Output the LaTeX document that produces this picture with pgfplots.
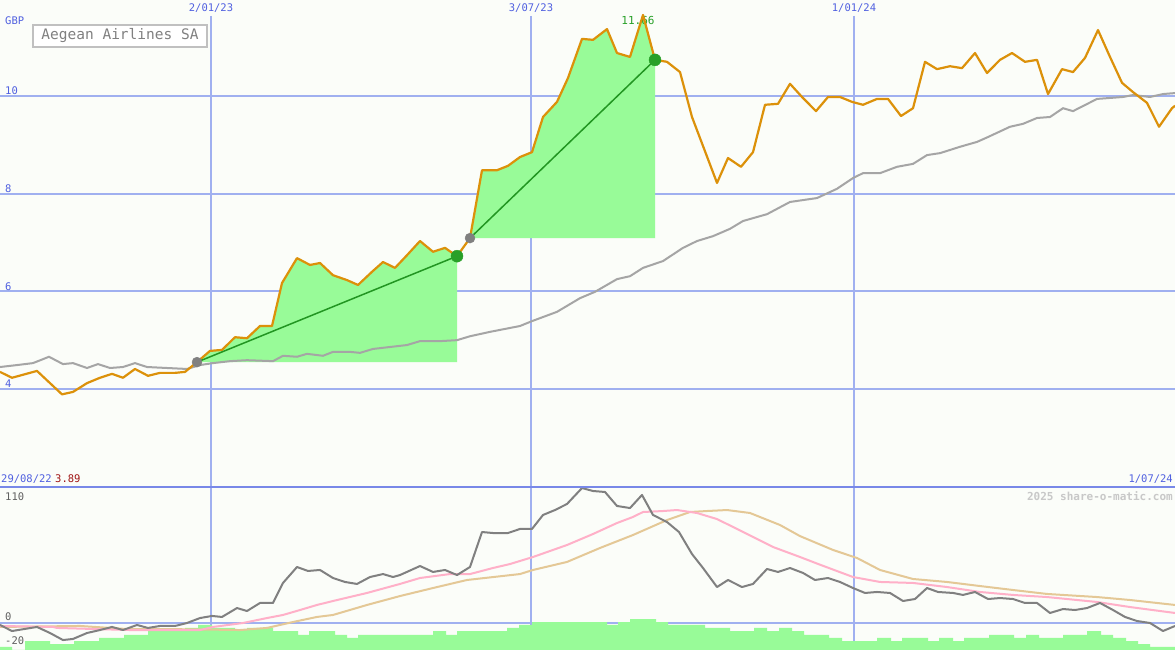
\documentclass[border=0pt]{standalone}
\usepackage{pgfplots}
\pgfplotsset{compat=1.18}
\usepackage{fontspec}
\setmainfont{DejaVu Sans Mono}

\definecolor{bg}{RGB}{251,253,249}
\definecolor{gridblue}{RGB}{160,176,240}
\definecolor{sepblue}{RGB}{120,136,232}
\definecolor{labelblue}{RGB}{80,96,224}
\definecolor{price}{RGB}{220,145,10}
\definecolor{magray}{RGB}{165,165,165}
\definecolor{fillgreen}{RGB}{152,251,152}
\definecolor{tradegreen}{RGB}{34,150,34}
\definecolor{markgray}{RGB}{128,128,128}
\definecolor{exitgreen}{RGB}{40,160,40}
\definecolor{oscgray}{RGB}{128,128,128}
\definecolor{oscpink}{RGB}{255,176,200}
\definecolor{osctan}{RGB}{228,200,150}
\definecolor{lowlabel}{RGB}{96,96,96}
\definecolor{lowred}{RGB}{160,20,20}
\definecolor{wmark}{RGB}{200,200,200}
\definecolor{titlegray}{RGB}{128,128,128}
\definecolor{boxgray}{RGB}{192,192,192}

\begin{document}
\begin{tikzpicture}[x=1pt,y=1pt,font=\fontsize{10.5}{12}\selectfont]
\fill[bg] (0,0) rectangle (1175,650);

% ---------------- price panel ----------------
\begin{axis}[at={(0pt,163pt)}, anchor=south west, scale only axis,
  width=1175pt, height=487pt, xmin=0, xmax=1175, ymin=1.993, ymax=11.966,
  hide axis, clip=false]
  % horizontal grid
  \pgfplotsinvokeforeach{4,6,8,10}{
    \draw[gridblue, line width=2.2pt] (axis cs:0,#1) -- (axis cs:1175,#1);}
  % vertical grid (dates)
  \draw[gridblue, line width=1.2pt] (axis cs:211,11.64) -- (axis cs:211,1.993);
  \draw[gridblue, line width=2.2pt] (axis cs:531,11.64) -- (axis cs:531,1.993);
  \draw[gridblue, line width=1.2pt] (axis cs:854,11.64) -- (axis cs:854,1.993);

  % gains while holding
  \addplot[fill=fillgreen, draw=none] coordinates {
    (197,4.55) (210,4.78) (222,4.80) (235,5.06) (247,5.04) (260,5.29) (272,5.29)
    (282,6.17) (297,6.68) (310,6.54) (320,6.58) (333,6.33) (347,6.23) (358,6.13)
    (372,6.40) (383,6.60) (395,6.48) (407,6.74) (420,7.03) (433,6.81) (445,6.89)
    (457,6.72) (457,4.55)} -- cycle;
  \addplot[fill=fillgreen, draw=none] coordinates {
    (470,7.09) (482,8.48) (497,8.48) (508,8.57) (520,8.75) (532,8.85) (543,9.57)
    (557,9.88) (568,10.37) (582,11.17) (593,11.15) (607,11.37) (617,10.88)
    (630,10.80) (643,11.66) (655,10.74) (655,7.09)} -- cycle;

  % peak value
  \node[text=exitgreen, font=\fontsize{11}{12}\selectfont] at (axis cs:638,11.54) {11.66};

  % moving average
  \addplot[magray, line width=2pt] coordinates {
    (0,4.45) (17,4.49) (33,4.53) (49,4.66) (63,4.51) (73,4.53) (87,4.43) (98,4.51)
    (110,4.43) (123,4.45) (135,4.53) (147,4.45) (167,4.43) (187,4.41) (200,4.49)
    (213,4.53) (230,4.57) (247,4.59) (273,4.57) (283,4.68) (297,4.66) (307,4.72)
    (323,4.68) (333,4.76) (350,4.76) (360,4.74) (373,4.82) (390,4.86) (407,4.90)
    (420,4.98) (440,4.98) (457,5.00) (470,5.08) (490,5.17) (520,5.29) (532,5.39)
    (557,5.58) (580,5.86) (595,5.99) (617,6.25) (630,6.31) (643,6.48) (663,6.62)
    (683,6.89) (697,7.03) (713,7.13) (730,7.28) (743,7.44) (767,7.58) (790,7.83)
    (817,7.91) (837,8.10) (853,8.32) (863,8.42) (880,8.42) (897,8.55) (913,8.61)
    (927,8.79) (940,8.83) (960,8.96) (977,9.06) (988,9.16) (1010,9.37) (1023,9.43)
    (1037,9.55) (1050,9.57) (1063,9.75) (1073,9.69) (1097,9.94) (1123,9.98)
    (1133,10.02) (1150,9.98) (1163,10.04) (1175,10.06)};

  % share price (GBP)
  \addplot[price, line width=2.2pt, line join=round] coordinates {
    (0,4.35) (12,4.23) (37,4.37) (50,4.12) (62,3.89) (73,3.94) (87,4.12) (100,4.23)
    (112,4.31) (123,4.23) (135,4.41) (148,4.27) (160,4.33) (175,4.33) (185,4.35)
    (197,4.55) (210,4.78) (222,4.80) (235,5.06) (247,5.04) (260,5.29) (272,5.29)
    (282,6.17) (297,6.68) (310,6.54) (320,6.58) (333,6.33) (347,6.23) (358,6.13)
    (372,6.40) (383,6.60) (395,6.48) (407,6.74) (420,7.03) (433,6.81) (445,6.89)
    (457,6.72) (470,7.09) (482,8.48) (497,8.48) (508,8.57) (520,8.75) (532,8.85)
    (543,9.57) (557,9.88) (568,10.37) (582,11.17) (593,11.15) (607,11.37)
    (617,10.88) (630,10.80) (643,11.66) (655,10.74) (667,10.70) (680,10.49)
    (692,9.57) (717,8.22) (728,8.73) (741,8.55) (753,8.85) (765,9.82) (778,9.84)
    (790,10.25) (802,9.98) (816,9.69) (828,9.98) (840,9.98) (852,9.88) (863,9.82)
    (877,9.94) (888,9.94) (901,9.59) (913,9.75) (925,10.70) (937,10.55) (950,10.61)
    (962,10.57) (975,10.88) (987,10.47) (1000,10.74) (1012,10.88) (1025,10.70)
    (1037,10.74) (1048,10.04) (1062,10.55) (1073,10.49) (1085,10.78) (1098,11.35)
    (1110,10.80) (1122,10.27) (1133,10.08) (1147,9.86) (1159,9.37) (1172,9.75)
    (1175,9.80)};

  % trades: buy -> sell
  \addplot[tradegreen, line width=1.5pt] coordinates {(197,4.55) (457,6.72)};
  \addplot[tradegreen, line width=1.5pt] coordinates {(470,7.09) (655,10.74)};
  \addplot[only marks, mark=*, mark size=5pt, markgray, mark options={draw=none, fill=markgray}]
    coordinates {(197,4.55) (470,7.09)};
  \addplot[only marks, mark=*, mark size=6pt, exitgreen, mark options={draw=none, fill=exitgreen}]
    coordinates {(457,6.72) (655,10.74)};
\end{axis}

% ---------------- oscillator / volume panel ----------------
\begin{axis}[at={(0pt,0pt)}, anchor=south west, scale only axis,
  width=1175pt, height=163pt, xmin=0, xmax=1175, ymin=-24.55, ymax=123.64,
  hide axis, clip=true]
  \draw[gridblue, line width=2.2pt] (axis cs:0,0) -- (axis cs:1175,0);
  \draw[gridblue, line width=1.2pt] (axis cs:211,-24.55) -- (axis cs:211,123.64);
  \draw[gridblue, line width=2.2pt] (axis cs:531,-24.55) -- (axis cs:531,123.64);
  \draw[gridblue, line width=1.2pt] (axis cs:854,-24.55) -- (axis cs:854,123.64);

  % volume
  \addplot[const plot, fill=fillgreen, draw=none] coordinates {
    (0,-24.55) (0,-21.8) (12,-24.5) (25,-16.4) (50,-19.1) (74,-16.4) (99,-13.6)
    (124,-10.9) (148,-7.3) (185,-4.5) (198,-1.8) (212,-4.5) (235,-6.4) (247,-4.5)
    (273,-7.3) (298,-10.9) (309,-7.3) (335,-10.9) (347,-13.6) (358,-10.9)
    (433,-7.3) (446,-10.9) (457,-7.3) (507,-4.5) (519,-1.8) (532,0.9) (607,-1.8)
    (618,0.9) (630,3.6) (656,0.9) (668,-1.8) (705,-4.5) (730,-7.3) (754,-4.5)
    (767,-7.3) (779,-4.5) (792,-7.3) (804,-10.9) (829,-13.6) (842,-16.4)
    (877,-13.6) (891,-16.4) (902,-13.6) (928,-16.4) (939,-13.6) (953,-16.4)
    (964,-13.6) (989,-10.9) (1014,-13.6) (1026,-10.9) (1039,-13.6) (1063,-10.9)
    (1087,-7.3) (1101,-10.9) (1113,-13.6) (1126,-16.4) (1138,-19.1) (1150,-21.8)
    (1175,-21.8) (1175,-24.55)} -- cycle;

  % slow average
  \addplot[osctan, line width=2pt] coordinates {
    (0,-3.6) (80,-2.7) (127,-5.5) (167,-5.5) (240,-6.4) (267,-4.5) (293,0.9)
    (317,5.5) (333,7.3) (367,16.4) (400,24.5) (433,31.8) (467,39.1) (520,44.5)
    (533,48.2) (567,55.5) (600,68.2) (633,80) (667,93.6) (690,100.9) (707,101.8)
    (727,102.7) (750,100) (780,89.1) (800,79) (833,66.4) (857,59.1) (880,48.2)
    (913,40) (947,37.3) (980,33.6) (1013,30) (1047,26.4) (1097,23.6) (1130,20.9)
    (1175,16.4)};
  % fast average
  \addplot[oscpink, line width=2pt] coordinates {
    (0,-2.7) (53,-3.6) (57,-4.5) (130,-6.4) (200,-6.4) (213,-3.6) (243,0)
    (267,4.5) (283,7.3) (300,11.8) (317,16.4) (333,20) (367,27.3) (400,35.5)
    (420,40.9) (450,44.5) (470,44.5) (493,50) (510,53.6) (533,60) (567,70.9)
    (593,80.9) (617,90.9) (633,96.4) (643,100.9) (663,101.8) (677,102.7) (697,100)
    (717,94.5) (733,87.3) (757,76.4) (773,69.1) (800,60) (820,53) (853,41.8)
    (880,37.3) (913,36.4) (947,32.7) (980,28.2) (1013,25.5) (1047,23.6)
    (1097,19.1) (1130,14.5) (1175,9.1)};
  % momentum
  \addplot[oscgray, line width=2pt, line join=round] coordinates {
    (0,-1.8) (12,-7.3) (37,-3.6) (50,-9.1) (63,-15.5) (73,-14.5) (87,-9.1)
    (100,-6.4) (112,-3.6) (123,-6.4) (137,-1.8) (148,-4.5) (160,-2.7) (175,-2.7)
    (187,0) (200,4.5) (212,6.4) (222,5.5) (237,13.6) (247,10.9) (260,18.2)
    (273,18.2) (283,36.4) (297,50.9) (308,47.3) (320,48.2) (333,40.9) (345,37.3)
    (357,35.5) (370,41.8) (383,44.5) (393,41.8) (400,43.6) (420,51.8) (433,46.4)
    (445,48.2) (457,43.6) (470,50.9) (482,82.7) (493,81.8) (508,81.8) (520,85.5)
    (532,85.5) (543,98.2) (555,102.7) (567,108.2) (582,122.7) (593,120) (605,119.1)
    (617,106.4) (630,104.5) (642,116.4) (653,98.2) (667,91.8) (679,82.7) (692,62.7)
    (703,50) (717,32.7) (728,39.1) (742,32.7) (753,35.5) (767,49.1) (778,46.4)
    (790,50) (803,45.5) (815,39.1) (828,40.9) (840,37.3) (853,31.8) (865,27.3)
    (877,28.2) (890,27.3) (903,20) (915,21.8) (927,31.8) (938,28.2) (953,27.3)
    (963,25.5) (975,28.2) (988,21.8) (1000,22.7) (1013,21.8) (1025,18.2)
    (1037,18.2) (1050,9.1) (1063,12.7) (1075,11.8) (1087,13.6) (1100,18.2)
    (1113,11.8) (1125,5.5) (1137,1.8) (1150,0) (1163,-7.3) (1175,-2.7)};
\end{axis}

% panel separator
\draw[sepblue, line width=2.5pt] (0,163) -- (1175,163);

% ---------------- labels ----------------
\begin{scope}[inner sep=0pt]
  \node[text=labelblue] at (211,642) {2/01/23};
  \node[text=labelblue] at (531,642) {3/07/23};
  \node[text=labelblue] at (854,642) {1/01/24};
  \node[text=labelblue, anchor=west] at (5,629) {GBP};
  \node[text=labelblue, anchor=west] at (5,559) {10};
  \node[text=labelblue, anchor=west] at (5,461) {8};
  \node[text=labelblue, anchor=west] at (5,363) {6};
  \node[text=labelblue, anchor=west] at (5,266) {4};
  \node[text=labelblue, anchor=west] at (1,171) {29/08/22};
  \node[text=lowred, anchor=west] at (55,171) {3.89};
  \node[text=labelblue, anchor=east] at (1173,171) {1/07/24};
  \node[text=lowlabel, anchor=west] at (5,153) {110};
  \node[text=lowlabel, anchor=west] at (5,33) {0};
  \node[text=lowlabel, anchor=west] at (5,9) {-20};
  \node[text=wmark, anchor=east, font=\fontsize{11}{13}\selectfont\bfseries] at (1173,154) {2025 share-o-matic.com};
\end{scope}

% name box
\draw[boxgray, line width=2pt, fill=white] (33,625) rectangle (207,603);
\node[text=titlegray, font=\fontsize{14.5}{16}\selectfont, inner sep=0pt] at (120,614) {Aegean Airlines SA};

\pgfresetboundingbox
\useasboundingbox (0,0) rectangle (1175,650);
\end{tikzpicture}
\end{document}
